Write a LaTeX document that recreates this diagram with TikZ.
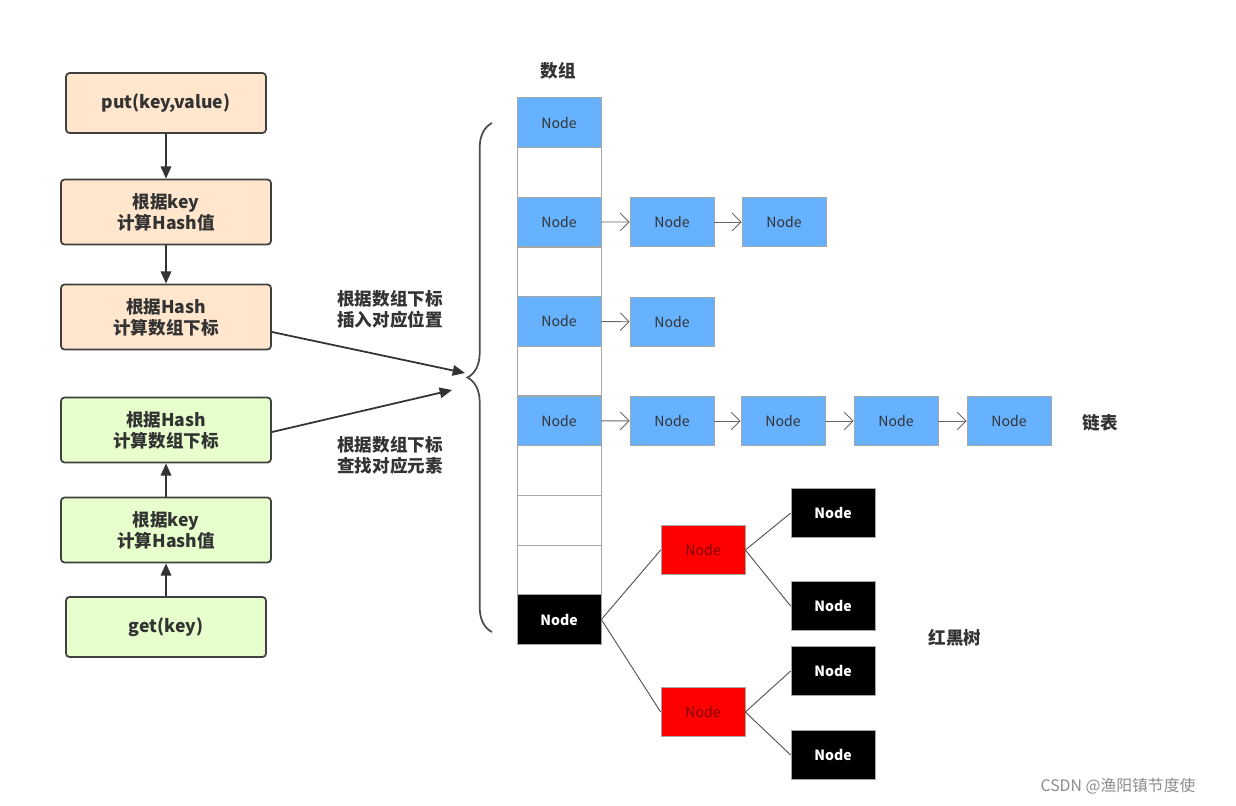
\documentclass[tikz,border=0pt]{standalone}
\usepackage{fontspec}
\setmainfont{Noto Sans CJK SC}
\usetikzlibrary{arrows.meta,decorations.pathreplacing}
\definecolor{peach}{HTML}{FFE6CC}
\definecolor{lgreen}{HTML}{E6FFCC}
\definecolor{nblue}{HTML}{66B2FF}
\begin{document}
\begin{tikzpicture}[x=0.02cm,y=-0.02cm,
 flowbox/.style={draw=black!75,line width=1pt,rounded corners=2pt,minimum width=4.2cm,minimum height=1.3cm,align=center,font=\bfseries\fontsize{10}{12}\selectfont,text=black!80},
 cell/.style={draw=black!35,minimum width=1.68cm,minimum height=0.99cm,inner sep=0pt,font=\fontsize{8}{10}\selectfont,text=black!80},
 bn/.style={cell,fill=nblue},
 rn/.style={cell,fill=red,text=red!50!black},
 kn/.style={cell,fill=black,text=white,font=\bfseries\fontsize{8}{10}\selectfont},
 arr/.style={-{Triangle[length=7pt,width=6pt]},black!80,line width=1pt},
 larr/.style={-{Straight Barb[length=5pt]},black!60,line width=0.5pt},
 lbl/.style={font=\bfseries\fontsize{10}{12}\selectfont,text=black!80,align=left}]
\useasboundingbox (0,0) rectangle (1236,805);
\node[flowbox,fill=peach,minimum width=4cm,minimum height=1.2cm] (p1) at (166,103) {put(key,value)};
\node[flowbox,fill=peach] (p2) at (166,212) {根据key\\计算Hash值};
\node[flowbox,fill=peach] (p3) at (166,317) {根据Hash\\计算数组下标};
\node[flowbox,fill=lgreen] (g3) at (166,430) {根据Hash\\计算数组下标};
\node[flowbox,fill=lgreen] (g2) at (166,530) {根据key\\计算Hash值};
\node[flowbox,fill=lgreen,minimum width=4cm,minimum height=1.2cm] (g1) at (166,627) {get(key)};
\draw[arr] (p1) -- (p2);
\draw[arr] (p2) -- (p3);
\draw[arr] (g1) -- (g2);
\draw[arr] (g2) -- (g3);
\coordinate (t1) at (465,373);
\coordinate (t2) at (452,390);
\coordinate (s1) at (272,332);
\coordinate (s2) at (272,432);
\draw[arr] (s1) -- (t1);
\draw[arr] (s2) -- (t2);
\node[lbl] (l1) at (390,309) {根据数组下标\\插入对应位置};
\node[lbl] (l2) at (390,455) {根据数组下标\\查找对应元素};
\draw[black!70,line width=1pt,decorate,decoration={brace,amplitude=14pt}] (492,632) -- (492,123);
\node[lbl] (arrtitle) at (558,71) {数组};
% array
\foreach \i in {0,...,10}{ \node[cell] (c\i) at (559,{122.5+49.7*\i}) {}; }
\foreach \i in {0,2,4,6}{ \node[bn] at (c\i) {Node}; }
\node[kn] (c10b) at (c10) {Node};
% chains
\node[bn] (a1) at (672,222) {Node};
\node[bn] (a2) at (784,222) {Node};
\draw[larr] (c2) -- (a1); \draw[larr] (a1) -- (a2);
\node[bn] (b1) at (672,322) {Node};
\draw[larr] (c4) -- (b1);
\node[bn] (d1) at (672,421) {Node};
\node[bn] (d2) at (783,421) {Node};
\node[bn] (d3) at (896,421) {Node};
\node[bn] (d4) at (1009,421) {Node};
\draw[larr] (c6) -- (d1); \draw[larr] (d1) -- (d2); \draw[larr] (d2) -- (d3); \draw[larr] (d3) -- (d4);
\node[lbl] (ll) at (1100,423) {链表};
% tree
\node[rn] (r1) at (703,550) {Node};
\node[rn] (r2) at (703,712) {Node};
\node[kn] (k1) at (833,513) {Node};
\node[kn] (k2) at (833,606) {Node};
\node[kn] (k3) at (833,671) {Node};
\node[kn] (k4) at (833,755) {Node};
\draw[black!70,line width=0.5pt] (c10.east) -- (r1.west);
\draw[black!70,line width=0.5pt] (c10.east) -- (r2.west);
\draw[black!70,line width=0.5pt] (r1.east) -- (k1.west);
\draw[black!70,line width=0.5pt] (r1.east) -- (k2.west);
\draw[black!70,line width=0.5pt] (r2.east) -- (k3.west);
\draw[black!70,line width=0.5pt] (r2.east) -- (k4.west);
\node[lbl] (tl) at (955,638) {红黑树};
\node[font=\fontsize{9}{11}\selectfont,text=black!45] (wm) at (1118,786) {CSDN @渔阳镇节度使};
\end{tikzpicture}
\end{document}
